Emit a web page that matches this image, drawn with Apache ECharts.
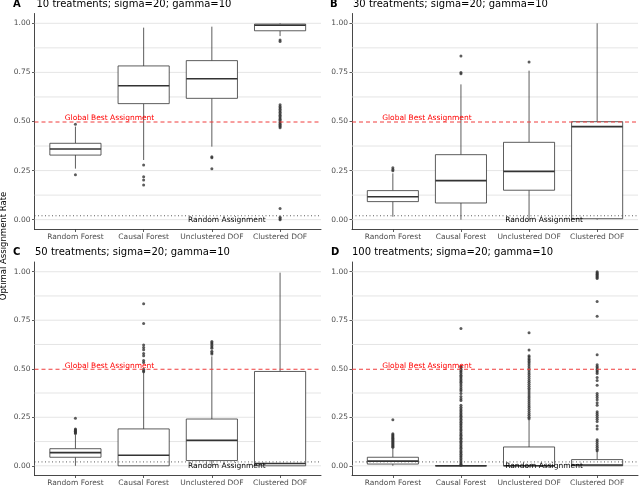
<!DOCTYPE html>
<html>
<head>
<meta charset="utf-8">
<script src="https://cdn.jsdelivr.net/npm/echarts@6/dist/echarts.min.js"></script>
<style>
html,body{margin:0;padding:0;background:#fff;}
#chart{width:640px;height:487px;}
</style>
</head>
<body>
<div id="chart"></div>
<script>
// ---------------- data ----------------
const categories = ['Random Forest', 'Causal Forest', 'Unclustered DOF', 'Clustered DOF'];
const panelLetters = ['A', 'B', 'C', 'D'];
const panelTitles = [
  '10 treatments; sigma=20; gamma=10',
  '30 treatments; sigma=20; gamma=10',
  '50 treatments; sigma=20; gamma=10',
  '100 treatments; sigma=20; gamma=10'
];
const yTickValues = [0, 0.25, 0.5, 0.75, 1];
const gridLevels = [0, 0.125, 0.25, 0.375, 0.625, 0.75, 0.875, 1];
const GLOBAL_BEST = 0.5;
const RANDOM_RATE = 0.02;
const globalBestLabel = 'Global Best Assignment';
const randomLabel = 'Random Assignment';
const globalBestLabelPos = [1.5, 0.516];
const randomLabelPos = [3.22, 0.0];

// box stats per category: [lower whisker, Q1, median, Q3, upper whisker]
const statsA = [
  [0.26, 0.329, 0.36, 0.389, 0.474],
  [0.304, 0.591, 0.682, 0.783, 0.978],
  [0.372, 0.618, 0.718, 0.81, 0.983],
  [0.935, 0.962, 0.99, 0.996, 1.0]
];
const outliersA = [
  [0.486, 0.229],
  [0.279, 0.219, 0.202, 0.177],
  [0.321, 0.315, 0.26],
  [0.915, 0.908, 0.585, 0.577, 0.57, 0.562, 0.555, 0.547, 0.54, 0.532, 0.525, 0.518, 0.512, 0.505, 0.498, 0.492, 0.486, 0.48, 0.474, 0.468, 0.057, 0.012, 0.005, 0.0]
];
const statsB = [
  [0.015, 0.092, 0.117, 0.148, 0.236],
  [0.0, 0.085, 0.199, 0.331, 0.689],
  [0.0, 0.15, 0.246, 0.394, 0.759],
  [0.0, 0.005, 0.474, 0.499, 1.0]
];
const outliersB = [
  [0.265, 0.256, 0.249],
  [0.833, 0.75, 0.743],
  [0.803],
  []
];
const statsC = [
  [0.0, 0.044, 0.068, 0.088, 0.16],
  [0.0, 0.0, 0.054, 0.19, 0.482],
  [0.0, 0.027, 0.131, 0.241, 0.564],
  [0.0, 0.0, 0.012, 0.486, 0.995]
];
const outliersC = [
  [0.245, 0.19, 0.186, 0.182, 0.178, 0.174, 0.17, 0.166],
  [0.835, 0.733, 0.622, 0.61, 0.598, 0.578, 0.567, 0.543, 0.532, 0.497, 0.49, 0.484],
  [0.64, 0.634, 0.627, 0.62, 0.612, 0.605, 0.59, 0.582, 0.576],
  []
];
const statsD = [
  [0.0, 0.009, 0.024, 0.044, 0.092],
  [0.0, 0.0, 0.0, 0.0, 0.0],
  [0.0, 0.0, 0.0, 0.097, 0.236],
  [0.0, 0.0, 0.004, 0.032, 0.075]
];
const outliersD = [
  [0.237, 0.165, 0.16, 0.155, 0.15, 0.145, 0.14, 0.135, 0.13, 0.125, 0.12, 0.115, 0.11, 0.105, 0.1, 0.096],
  [0.708, 0.513, 0.506, 0.498, 0.49, 0.483, 0.475, 0.467, 0.46, 0.452, 0.444, 0.437, 0.43, 0.421, 0.412, 0.402, 0.393, 0.386, 0.372, 0.357, 0.346, 0.336, 0.312, 0.301, 0.293, 0.285, 0.277, 0.27, 0.262, 0.255, 0.247, 0.24, 0.232, 0.225, 0.217, 0.21, 0.202, 0.195, 0.187, 0.18, 0.172, 0.164, 0.157, 0.15, 0.142, 0.135, 0.127, 0.12, 0.112, 0.104, 0.097, 0.09, 0.082, 0.074, 0.067, 0.06, 0.052, 0.045, 0.037, 0.03, 0.022, 0.015, 0.008, 0.003],
  [0.686, 0.596, 0.567, 0.56, 0.552, 0.545, 0.537, 0.53, 0.52, 0.51, 0.5, 0.49, 0.48, 0.47, 0.46, 0.45, 0.44, 0.43, 0.42, 0.41, 0.4, 0.39, 0.38, 0.37, 0.36, 0.35, 0.34, 0.33, 0.32, 0.31, 0.3, 0.29, 0.28, 0.27, 0.26, 0.25, 0.242],
  [1.0, 0.995, 0.99, 0.985, 0.98, 0.975, 0.97, 0.965, 0.846, 0.771, 0.572, 0.52, 0.512, 0.505, 0.498, 0.49, 0.483, 0.476, 0.455, 0.44, 0.415, 0.372, 0.362, 0.352, 0.34, 0.325, 0.312, 0.279, 0.27, 0.26, 0.25, 0.24, 0.228, 0.205, 0.19, 0.134, 0.125, 0.115, 0.105, 0.095, 0.085, 0.078]
];
const yAxisName = 'Optimal Assignment Rate';

// ---------------- layout / style ----------------
const FONT = 'DejaVu Sans';
const X_MIN = 0.4, X_MAX = 4.6, Y_MIN = -0.05, Y_MAX = 1.05;
const BOX_W = 0.75;
const INK = '#333333';
const panelStats = [statsA, statsB, statsC, statsD];
const panelOutliers = [outliersA, outliersB, outliersC, outliersD];
const gridRects = [
  {left: 34.5, top: 13.5, width: 286.5, height: 216},
  {left: 352, top: 13.5, width: 286, height: 216},
  {left: 34.5, top: 262, width: 286.5, height: 216},
  {left: 352, top: 262, width: 286, height: 216}
];
const titlePos = [
  {lx: 13, tx: 36.5, y: 5.5},
  {lx: 330, tx: 353, y: 5.5},
  {lx: 13, tx: 35, y: 253},
  {lx: 331, tx: 352, y: 253}
];

function renderGridLine(params, api) {
  const v = api.value(1);
  const a = api.coord([X_MIN, v]);
  const b = api.coord([X_MAX, v]);
  return {type: 'line', shape: {x1: a[0], y1: a[1], x2: b[0], y2: b[1]},
    style: {stroke: '#dedede', lineWidth: 0.8}};
}

function renderBox(params, api) {
  const x = api.value(0);
  const lo = api.value(1), q1 = api.value(2), med = api.value(3), q3 = api.value(4), hi = api.value(5);
  const pLo = api.coord([x, lo]), pQ1 = api.coord([x, q1]);
  const pQ3 = api.coord([x, q3]), pHi = api.coord([x, hi]);
  const tl = api.coord([x - BOX_W / 2, q3]);
  const br = api.coord([x + BOX_W / 2, q1]);
  const mL = api.coord([x - BOX_W / 2, med]);
  const mR = api.coord([x + BOX_W / 2, med]);
  const st = {stroke: INK, lineWidth: 0.8, fill: null};
  return {type: 'group', children: [
    {type: 'line', shape: {x1: pLo[0], y1: pLo[1], x2: pQ1[0], y2: pQ1[1]}, style: st},
    {type: 'line', shape: {x1: pQ3[0], y1: pQ3[1], x2: pHi[0], y2: pHi[1]}, style: st},
    {type: 'rect', shape: {x: tl[0], y: tl[1], width: br[0] - tl[0], height: br[1] - tl[1]},
      style: {fill: '#ffffff', stroke: INK, lineWidth: 0.8}},
    {type: 'line', shape: {x1: mL[0], y1: mL[1], x2: mR[0], y2: mR[1]},
      style: {stroke: INK, lineWidth: 1.6}}
  ]};
}

function renderRefLine(params, api) {
  const v = api.value(1);
  const a = api.coord([X_MIN, v]);
  const b = api.coord([X_MAX, v]);
  const isBest = params.dataIndex === 0;
  return {type: 'line', shape: {x1: a[0], y1: a[1] + (isBest ? 0.5 : 0), x2: b[0], y2: b[1] + (isBest ? 0.5 : 0)},
    style: isBest
      ? {stroke: '#f03c3c', lineWidth: 1, lineDash: [4, 3]}
      : {stroke: '#333333', lineWidth: 0.8, lineDash: [1, 2.5]}};
}

function renderRefText(params, api) {
  const p = api.coord([api.value(0), api.value(1)]);
  const isBest = params.dataIndex === 0;
  return {type: 'text', x: p[0], y: p[1],
    style: {text: isBest ? globalBestLabel : randomLabel, fill: isBest ? '#ff0000' : '#000000',
      font: '7.5px "DejaVu Sans"', textAlign: 'center', textVerticalAlign: 'middle'}};
}

const grid = [], xAxis = [], yAxis = [], series = [], graphic = [];
for (let i = 0; i < 4; i++) {
  grid.push(Object.assign({containLabel: false}, gridRects[i]));
  xAxis.push({
    type: 'value', gridIndex: i, min: X_MIN, max: X_MAX,
    axisLine: {show: true, onZero: false, lineStyle: {color: INK, width: 0.9}},
    axisTick: {show: true, customValues: [1, 2, 3, 4], length: 2.5, lineStyle: {color: INK, width: 0.8}},
    axisLabel: {customValues: [1, 2, 3, 4], formatter: v => categories[Math.round(v) - 1],
      fontSize: 7.5, color: '#4d4d4d', fontFamily: FONT, margin: 3.5},
    splitLine: {show: false}
  });
  yAxis.push({
    type: 'value', gridIndex: i, min: Y_MIN, max: Y_MAX,
    axisLine: {show: true, onZero: false, lineStyle: {color: INK, width: 0.9}},
    axisTick: {show: true, customValues: yTickValues, length: 2.5, lineStyle: {color: INK, width: 0.8}},
    axisLabel: {customValues: yTickValues, formatter: v => v.toFixed(2),
      fontSize: 7.5, color: '#4d4d4d', fontFamily: FONT, margin: 4},
    splitLine: {show: false}
  });
  series.push({
    type: 'custom', xAxisIndex: i, yAxisIndex: i, z: 1, silent: true,
    data: gridLevels.map(v => [X_MIN, v]), encode: {x: 0, y: 1},
    renderItem: renderGridLine
  });
  series.push({
    type: 'custom', xAxisIndex: i, yAxisIndex: i, z: 2, silent: true,
    data: panelStats[i].map((s, k) => [k + 1].concat(s)),
    encode: {x: 0, y: [1, 2, 3, 4, 5]},
    renderItem: renderBox
  });
  const pts = [];
  panelOutliers[i].forEach((arr, k) => arr.forEach(v => pts.push([k + 1, v])));
  series.push({
    type: 'scatter', xAxisIndex: i, yAxisIndex: i, z: 3, silent: true,
    data: pts, symbol: 'circle', symbolSize: 3,
    itemStyle: {color: INK}
  });
  series.push({
    type: 'custom', xAxisIndex: i, yAxisIndex: i, z: 4, silent: true,
    data: [[X_MIN, GLOBAL_BEST], [X_MIN, RANDOM_RATE]], encode: {x: 0, y: 1},
    renderItem: renderRefLine
  });
  series.push({
    type: 'custom', xAxisIndex: i, yAxisIndex: i, z: 5, silent: true,
    data: [globalBestLabelPos, randomLabelPos], encode: {x: 0, y: 1},
    renderItem: renderRefText
  });
  graphic.push({type: 'text', left: titlePos[i].lx, top: titlePos[i].y - 6,
    style: {text: panelLetters[i], font: 'bold 10px "DejaVu Sans"', fill: '#000'}});
  graphic.push({type: 'text', left: titlePos[i].tx, top: titlePos[i].y - 6,
    style: {text: panelTitles[i], font: '10px "DejaVu Sans"', fill: '#000'}});
}
graphic.push({type: 'text', x: 4, y: 246, rotation: Math.PI / 2,
  style: {text: yAxisName, font: '8.5px "DejaVu Sans"', fill: '#000', textAlign: 'center', textVerticalAlign: 'middle'}});

const chart = echarts.init(document.getElementById('chart'), null, {renderer: 'canvas'});
chart.setOption({
  animation: false,
  backgroundColor: '#ffffff',
  grid, xAxis, yAxis, series, graphic
});
</script>
</body>
</html>
